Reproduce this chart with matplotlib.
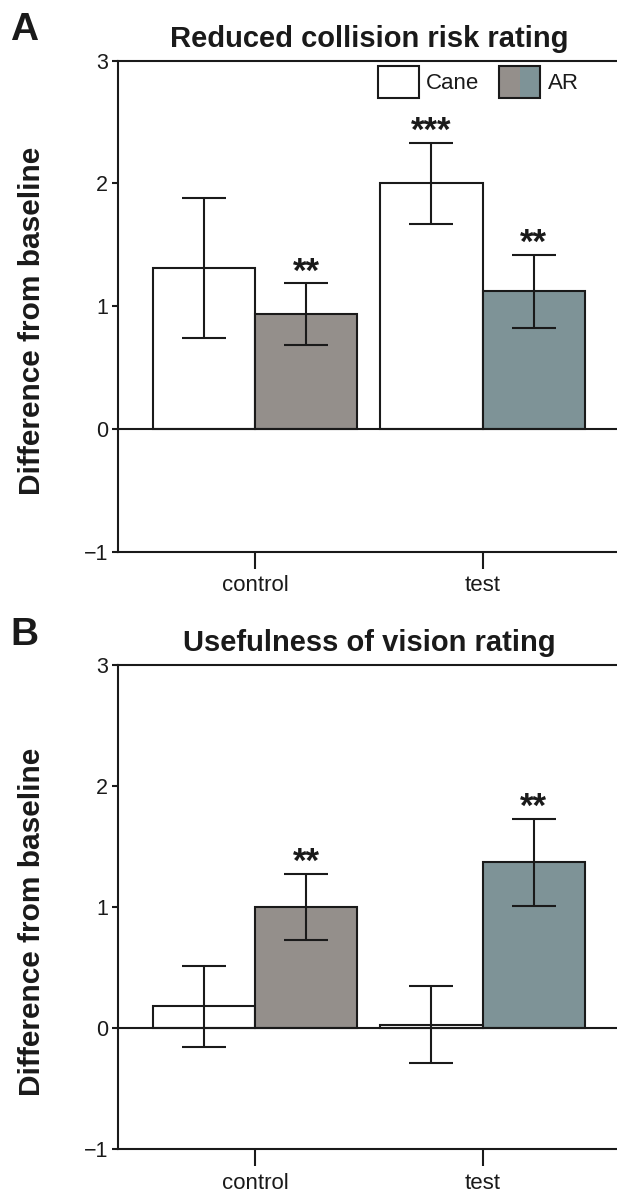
import matplotlib
matplotlib.use("Agg")
import matplotlib.pyplot as plt
import numpy as np
from matplotlib.legend_handler import HandlerBase
from matplotlib.patches import Rectangle

plt.rcParams['font.family'] = ['Liberation Sans', 'DejaVu Sans']

# ---- data ----
conditions = ["control", "test"]
groups = ["Cane", "AR"]

collision_cane = [1.31, 2.00]
collision_cane_err = [0.57, 0.33]
collision_ar = [0.935, 1.12]
collision_ar_err = [0.25, 0.30]
collision_cane_stars = ["", "***"]
collision_ar_stars = ["**", "**"]

vision_cane = [0.18, 0.027]
vision_cane_err = [0.333, 0.317]
vision_ar = [1.00, 1.37]
vision_ar_err = [0.275, 0.36]
vision_cane_stars = ["", ""]
vision_ar_stars = ["**", "**"]

yticks = [-1, 0, 1, 2, 3]

# ---- style ----
INK = "#1a1a1a"
CANE_COLOR = "white"
AR_COLORS = ["#948f8b", "#7e9397"]   # control, test
LW = 1.5
BAR_W = 0.45


class SplitBoxHandler(HandlerBase):
    """Legend key drawn as a box split into two colours."""
    def __init__(self, left, right, **kw):
        super().__init__(**kw)
        self.left, self.right = left, right

    def create_artists(self, legend, orig_handle, xdescent, ydescent,
                       width, height, fontsize, trans):
        x0, y0 = -xdescent, -ydescent
        a = Rectangle((x0, y0), width / 2, height, facecolor=self.left,
                      edgecolor="none", transform=trans)
        b = Rectangle((x0 + width / 2, y0), width / 2, height,
                      facecolor=self.right, edgecolor="none", transform=trans)
        f = Rectangle((x0, y0), width, height, facecolor="none",
                      edgecolor=INK, lw=LW, transform=trans)
        return [a, b, f]


W, H = 617, 1195
fig = plt.figure(figsize=(W / 100, H / 100), dpi=100)


def fig_rect(left, top, right, bottom):
    return [left / W, 1 - bottom / H, (right - left) / W, (bottom - top) / H]


def panel(ax, title, cane, cane_err, ar, ar_err, cane_stars, ar_stars):
    x = np.arange(len(conditions))
    ax.bar(x - BAR_W / 2, cane, BAR_W, color=CANE_COLOR, edgecolor=INK,
           lw=LW, zorder=2)
    ax.bar(x + BAR_W / 2, ar, BAR_W, color=AR_COLORS, edgecolor=INK,
           lw=LW, zorder=2)
    for xs, m, e in ((x - BAR_W / 2, cane, cane_err), (x + BAR_W / 2, ar, ar_err)):
        ax.errorbar(xs, m, yerr=e, fmt="none", ecolor=INK, elinewidth=LW,
                    capsize=16, capthick=LW, zorder=3)
    for xs, m, e, st in ((x - BAR_W / 2, cane, cane_err, cane_stars),
                         (x + BAR_W / 2, ar, ar_err, ar_stars)):
        for xi, mi, ei, s in zip(xs, m, e, st):
            if s:
                ax.annotate(s, (xi, mi + ei), xytext=(0, 1.5),
                            textcoords="offset points", ha="center",
                            va="baseline", fontsize=25, fontweight="bold",
                            color=INK)
    ax.axhline(0, color=INK, lw=LW, zorder=4)
    ax.set_xlim(-0.6, 1.6)
    ax.set_ylim(-1, 3)
    ax.set_yticks(yticks)
    ax.set_yticklabels(["\u22121" if t < 0 else str(t) for t in yticks])
    ax.set_xticks(x)
    ax.set_xticklabels(conditions)
    ax.spines["right"].set_visible(False)
    for s in ("left", "top", "bottom"):
        ax.spines[s].set_linewidth(LW)
        ax.spines[s].set_color(INK)
    ax.tick_params(axis="y", length=4.5, width=LW, color=INK, labelsize=15.5,
                   pad=3, labelcolor=INK)
    ax.tick_params(axis="x", length=12, width=LW, color=INK, labelsize=16,
                   pad=5, labelcolor=INK)
    ax.set_title(title, fontsize=21, fontweight="bold", pad=10, color=INK)
    ax.set_ylabel("Difference from baseline", fontsize=21.5,
                  fontweight="bold", color=INK)
    ax.yaxis.set_label_coords(-0.145, 0.47)


axA = fig.add_axes(fig_rect(118.4, 60.7, 619.3, 551.7))
panel(axA, "Reduced collision risk rating", collision_cane, collision_cane_err,
      collision_ar, collision_ar_err, collision_cane_stars, collision_ar_stars)

axB = fig.add_axes(fig_rect(118.4, 665, 619.3, 1149))
panel(axB, "Usefulness of vision rating", vision_cane, vision_cane_err,
      vision_ar, vision_ar_err, vision_cane_stars, vision_ar_stars)

# legend in panel A
cane_key = Rectangle((0, 0), 1, 1, facecolor=CANE_COLOR, edgecolor=INK, lw=LW)
ar_key = Rectangle((0, 0), 1, 1)
axA.legend([cane_key, ar_key], groups,
           handler_map={ar_key: SplitBoxHandler(AR_COLORS[0], AR_COLORS[1])},
           loc="upper left", bbox_to_anchor=(0.518, 0.989), ncol=2,
           frameon=False, fontsize=16, handlelength=1.85, handleheight=1.8,
           handletextpad=0.32, columnspacing=0.9, borderpad=0,
           borderaxespad=0, labelcolor=INK)

fig.text(10 / W, 1 - 40 / H, "A", fontsize=28, fontweight="bold",
         va="baseline", color=INK)
fig.text(10 / W, 1 - 645 / H, "B", fontsize=28, fontweight="bold",
         va="baseline", color=INK)

fig.savefig("out.png", dpi=100)
